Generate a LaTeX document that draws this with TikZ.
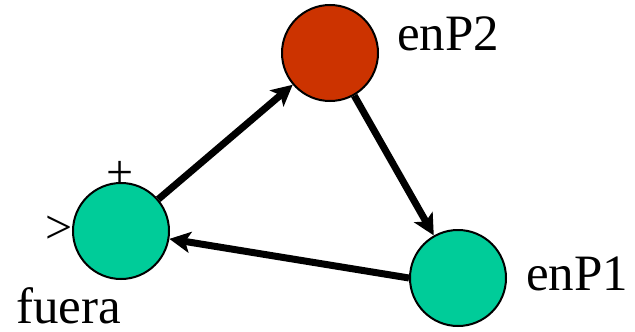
\documentclass[tikz,border=0pt]{standalone}
\usepackage{fontspec}
\setmainfont{Liberation Serif}
\usetikzlibrary{arrows.meta}
\definecolor{estverde}{RGB}{0,204,153}
\definecolor{estrojo}{RGB}{204,51,0}
\tikzset{
  estado/.style={circle,draw=black,line width=2pt,minimum size=96pt,inner sep=0pt},
  etiq/.style={inner sep=0pt,font=\fontsize{51}{55}\selectfont},
  marca/.style={inner sep=0pt,font=\fontsize{48}{50}\selectfont},
  trans/.style={line width=7pt,-{Stealth[length=21pt,width=21pt,inset=5pt]}}
}
\begin{document}
\begin{tikzpicture}[x=1pt,y=-1pt]
  \useasboundingbox (0,0) rectangle (635,332);
  % estados
  \node[estado,fill=estverde] (fuera) at (121,231) {};
  \node[estado,fill=estrojo] (enP2) at (330,53) {};
  \node[estado,fill=estverde] (enP1) at (458,278) {};
  % nombres
  \node[etiq,anchor=base west] (lfuera) at (16,323) {fuera};
  \node[etiq,anchor=base west] (lenP2) at (397,50) {enP2};
  \node[etiq,anchor=base west] (lenP1) at (526,290) {enP1};
  % inicial y final
  \node[marca] (ini) at (59,230) {>};
  \node[marca] (fin) at (120,175) {+};
  % transiciones
  \draw[trans] (fuera) -- (enP2);
  \draw[trans] (enP2) -- (enP1);
  \draw[trans] (enP1.west) -- (fuera);
\end{tikzpicture}
\end{document}
